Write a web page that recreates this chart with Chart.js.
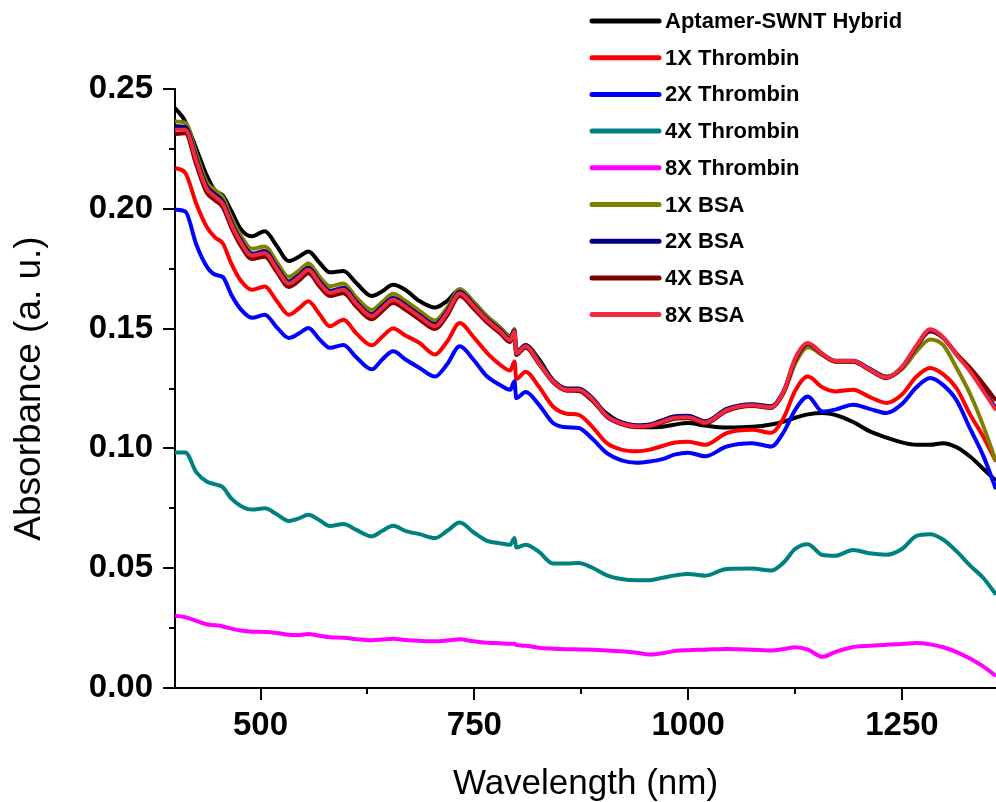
<!DOCTYPE html>
<html>
<head>
<meta charset="utf-8">
<script src="https://cdn.jsdelivr.net/npm/chart.js@4.4.1/dist/chart.umd.min.js"></script>
<style>
html, body { margin: 0; padding: 0; background: #fff; overflow: hidden; }
#wrap { width: 996px; height: 802px; }
</style>
</head>
<body>
<div id="wrap"><canvas id="chart" width="996" height="802"></canvas></div>
<script>
var wavelengths = [400, 412, 425, 437, 447, 456, 466, 477, 490, 505, 519, 533, 545, 556, 569, 581, 597, 612, 630, 642,
	655, 670, 686, 704, 718, 733, 749, 765, 780, 792, 797, 799, 810, 825, 842, 858, 872, 888, 905, 922,
	940, 955, 970, 985, 1000, 1020, 1045, 1075, 1097, 1112, 1125, 1140, 1157, 1172, 1193, 1212, 1232, 1250, 1267, 1283,
	1298, 1314, 1330, 1345, 1360];

var hybrid = [0.2421, 0.2365, 0.2250, 0.2140, 0.2075, 0.2055, 0.1990, 0.1915, 0.1885, 0.1906, 0.1845, 0.1782, 0.1800, 0.1822, 0.1775, 0.1735, 0.1740, 0.1690, 0.1636, 0.1655,
	0.1683, 0.1660, 0.1615, 0.1588, 0.1615, 0.1662, 0.1610, 0.1550, 0.1505, 0.1468, 0.1496, 0.1390, 0.1432, 0.1375, 0.1285, 0.1248, 0.1242, 0.1200, 0.1145, 0.1105,
	0.1090, 0.1088, 0.1090, 0.1100, 0.1106, 0.1095, 0.1087, 0.1090, 0.1100, 0.1112, 0.1128, 0.1142, 0.1148, 0.1140, 0.1110, 0.1072, 0.1045, 0.1025, 0.1015, 0.1015,
	0.1022, 0.1005, 0.0965, 0.0915, 0.0865];

var thrombin1x = [0.2170, 0.2150, 0.2020, 0.1925, 0.1880, 0.1855, 0.1770, 0.1700, 0.1662, 0.1676, 0.1615, 0.1558, 0.1585, 0.1614, 0.1560, 0.1510, 0.1537, 0.1480, 0.1430, 0.1465,
	0.1500, 0.1470, 0.1440, 0.1392, 0.1445, 0.1523, 0.1465, 0.1398, 0.1350, 0.1325, 0.1363, 0.1290, 0.1320, 0.1260, 0.1175, 0.1145, 0.1140, 0.1090, 0.1022, 0.0995,
	0.0988, 0.0995, 0.1010, 0.1025, 0.1028, 0.1015, 0.1064, 0.1078, 0.1065, 0.1130, 0.1240, 0.1300, 0.1255, 0.1238, 0.1245, 0.1215, 0.1190, 0.1225, 0.1300, 0.1336,
	0.1310, 0.1250, 0.1140, 0.1050, 0.0945];

var thrombin2x = [0.1996, 0.1989, 0.1850, 0.1760, 0.1725, 0.1715, 0.1640, 0.1580, 0.1545, 0.1558, 0.1505, 0.1461, 0.1480, 0.1503, 0.1455, 0.1420, 0.1432, 0.1380, 0.1330, 0.1370,
	0.1405, 0.1370, 0.1336, 0.1300, 0.1350, 0.1426, 0.1370, 0.1300, 0.1265, 0.1245, 0.1280, 0.1210, 0.1235, 0.1185, 0.1106, 0.1088, 0.1085, 0.1040, 0.0980, 0.0950,
	0.0940, 0.0945, 0.0955, 0.0975, 0.0982, 0.0967, 0.1008, 0.1022, 0.1008, 0.1070, 0.1160, 0.1217, 0.1154, 0.1162, 0.1182, 0.1165, 0.1148, 0.1185, 0.1255, 0.1294,
	0.1265, 0.1200, 0.1080, 0.0970, 0.0830];

var thrombin4x = [0.0983, 0.0983, 0.0900, 0.0862, 0.0850, 0.0838, 0.0790, 0.0760, 0.0745, 0.0750, 0.0725, 0.0697, 0.0708, 0.0723, 0.0700, 0.0676, 0.0684, 0.0660, 0.0633, 0.0655,
	0.0677, 0.0655, 0.0642, 0.0626, 0.0655, 0.0691, 0.0650, 0.0614, 0.0604, 0.0598, 0.0626, 0.0586, 0.0598, 0.0570, 0.0520, 0.0520, 0.0522, 0.0502, 0.0470, 0.0455,
	0.0450, 0.0450, 0.0460, 0.0470, 0.0476, 0.0469, 0.0497, 0.0499, 0.0490, 0.0525, 0.0580, 0.0600, 0.0555, 0.0552, 0.0576, 0.0562, 0.0556, 0.0580, 0.0635, 0.0642,
	0.0620, 0.0570, 0.0510, 0.0460, 0.0390];

var thrombin8x = [0.0302, 0.0295, 0.0280, 0.0266, 0.0262, 0.0257, 0.0248, 0.0240, 0.0235, 0.0234, 0.0230, 0.0222, 0.0221, 0.0225, 0.0218, 0.0212, 0.0210, 0.0204, 0.0199, 0.0202,
	0.0206, 0.0200, 0.0197, 0.0195, 0.0198, 0.0203, 0.0195, 0.0189, 0.0187, 0.0185, 0.0185, 0.0180, 0.0176, 0.0168, 0.0164, 0.0162, 0.0161, 0.0160, 0.0157, 0.0153,
	0.0147, 0.0140, 0.0145, 0.0155, 0.0158, 0.0160, 0.0163, 0.0160, 0.0157, 0.0163, 0.0170, 0.0160, 0.0130, 0.0150, 0.0171, 0.0176, 0.0181, 0.0184, 0.0188, 0.0182,
	0.0170, 0.0150, 0.0122, 0.0090, 0.0050];

var bsa1x = [0.2365, 0.2360, 0.2228, 0.2112, 0.2078, 0.2048, 0.1962, 0.1888, 0.1833, 0.1843, 0.1778, 0.1716, 0.1742, 0.1772, 0.1717, 0.1677, 0.1688, 0.1630, 0.1578, 0.1610,
	0.1645, 0.1614, 0.1574, 0.1534, 0.1586, 0.1665, 0.1612, 0.1552, 0.1505, 0.1465, 0.1497, 0.1405, 0.1432, 0.1366, 0.1284, 0.1248, 0.1246, 0.1205, 0.1136, 0.1106,
	0.1094, 0.1098, 0.1116, 0.1132, 0.1134, 0.1112, 0.1162, 0.1182, 0.1176, 0.1232, 0.1352, 0.1422, 0.1390, 0.1362, 0.1362, 0.1332, 0.1300, 0.1330, 0.1405, 0.1455,
	0.1432, 0.1335, 0.1225, 0.1095, 0.0945];

var bsa2x = [0.2345, 0.2342, 0.2210, 0.2095, 0.2060, 0.2030, 0.1944, 0.1869, 0.1813, 0.1824, 0.1758, 0.1697, 0.1723, 0.1754, 0.1698, 0.1658, 0.1670, 0.1612, 0.1560, 0.1593,
	0.1628, 0.1597, 0.1557, 0.1518, 0.1572, 0.1654, 0.1600, 0.1540, 0.1495, 0.1457, 0.1492, 0.1402, 0.1430, 0.1364, 0.1284, 0.1250, 0.1250, 0.1210, 0.1140, 0.1110,
	0.1097, 0.1100, 0.1118, 0.1134, 0.1136, 0.1113, 0.1165, 0.1184, 0.1176, 0.1242, 0.1368, 0.1436, 0.1394, 0.1366, 0.1366, 0.1333, 0.1298, 0.1338, 0.1425, 0.1488,
	0.1462, 0.1392, 0.1325, 0.1250, 0.1165];

var bsa4x = [0.2312, 0.2315, 0.2182, 0.2068, 0.2035, 0.2006, 0.1920, 0.1845, 0.1790, 0.1800, 0.1736, 0.1674, 0.1700, 0.1731, 0.1676, 0.1636, 0.1648, 0.1592, 0.1539, 0.1572,
	0.1607, 0.1577, 0.1538, 0.1498, 0.1553, 0.1636, 0.1584, 0.1525, 0.1481, 0.1444, 0.1480, 0.1392, 0.1420, 0.1355, 0.1276, 0.1241, 0.1240, 0.1200, 0.1131, 0.1101,
	0.1088, 0.1091, 0.1108, 0.1124, 0.1126, 0.1104, 0.1156, 0.1177, 0.1169, 0.1236, 0.1366, 0.1437, 0.1392, 0.1362, 0.1362, 0.1327, 0.1293, 0.1337, 0.1426, 0.1492,
	0.1462, 0.1395, 0.1335, 0.1270, 0.1200];

var bsa8x = [0.2330, 0.2330, 0.2200, 0.2085, 0.2050, 0.2020, 0.1935, 0.1860, 0.1805, 0.1815, 0.1750, 0.1688, 0.1715, 0.1746, 0.1690, 0.1650, 0.1662, 0.1605, 0.1552, 0.1585,
	0.1620, 0.1590, 0.1550, 0.1510, 0.1565, 0.1648, 0.1595, 0.1535, 0.1490, 0.1452, 0.1488, 0.1398, 0.1426, 0.1360, 0.1280, 0.1245, 0.1245, 0.1205, 0.1135, 0.1105,
	0.1092, 0.1095, 0.1112, 0.1128, 0.1130, 0.1108, 0.1160, 0.1180, 0.1172, 0.1240, 0.1375, 0.1440, 0.1395, 0.1365, 0.1365, 0.1330, 0.1296, 0.1340, 0.1430, 0.1497,
	0.1465, 0.1390, 0.1320, 0.1240, 0.1160];

var seriesNames = ['Aptamer-SWNT Hybrid', '1X Thrombin', '2X Thrombin', '4X Thrombin', '8X Thrombin', '1X BSA', '2X BSA', '4X BSA', '8X BSA'];
var seriesColors = ['#000000', '#ff0000', '#0000ff', '#008080', '#ff00ff', '#808000', '#000080', '#800000', '#f2283f'];
var seriesValues = [hybrid, thrombin1x, thrombin2x, thrombin4x, thrombin8x, bsa1x, bsa2x, bsa4x, bsa8x];

var xTicks = [500, 625, 750, 875, 1000, 1125, 1250];
var yTicks = [0, 0.025, 0.05, 0.075, 0.1, 0.125, 0.15, 0.175, 0.2, 0.225, 0.25];

var fontFamily = "'Liberation Sans', Arial, sans-serif";

var datasets = seriesValues.map(function(vals, i) {
	return {
		label: seriesNames[i],
		data: wavelengths.map(function(w, j) { return {x: w, y: vals[j]}; }),
		borderColor: seriesColors[i],
		backgroundColor: seriesColors[i],
		order: seriesValues.length - 1 - i
	};
});

// outward ticks, long for labelled values and short for the minor ones
var tickMarks = {
	id: 'tickMarks',
	afterDraw: function(chart) {
		var ctx = chart.ctx, xs = chart.scales.x, ys = chart.scales.y;
		ctx.save();
		ctx.strokeStyle = '#000';
		ctx.lineWidth = 2;
		xs.ticks.forEach(function(t) {
			var px = Math.round(xs.getPixelForValue(t.value));
			ctx.beginPath();
			ctx.moveTo(px, xs.top);
			ctx.lineTo(px, xs.top + (t.label ? 12 : 6));
			ctx.stroke();
		});
		ys.ticks.forEach(function(t) {
			var py = Math.round(ys.getPixelForValue(t.value));
			ctx.beginPath();
			ctx.moveTo(ys.right, py);
			ctx.lineTo(ys.right - (t.label ? 12 : 6), py);
			ctx.stroke();
		});
		ctx.restore();
	}
};

var seriesLegend = {
	id: 'seriesLegend',
	afterDraw: function(chart) {
		var ctx = chart.ctx;
		ctx.save();
		ctx.font = 'bold 22px ' + fontFamily;
		ctx.textBaseline = 'middle';
		ctx.fillStyle = '#000';
		ctx.lineWidth = 5;
		ctx.lineCap = 'round';
		chart.data.datasets.forEach(function(ds, i) {
			var y = 21 + i * 36.7;
			ctx.strokeStyle = ds.borderColor;
			ctx.beginPath();
			ctx.moveTo(592, y);
			ctx.lineTo(659, y);
			ctx.stroke();
			ctx.fillText(ds.label, 665, y + 1);
		});
		ctx.restore();
	}
};

new Chart(document.getElementById('chart'), {
	type: 'line',
	data: {datasets: datasets},
	plugins: [tickMarks, seriesLegend],
	options: {
		responsive: false,
		animation: false,
		layout: {padding: {top: 89, right: 0, bottom: 0, left: 0}},
		elements: {
			point: {radius: 0},
			line: {borderWidth: 4, cubicInterpolationMode: 'monotone'}
		},
		plugins: {
			legend: {display: false},
			tooltip: {enabled: false}
		},
		scales: {
			x: {
				type: 'linear',
				min: 400,
				max: 1360,
				afterBuildTicks: function(scale) {
					scale.ticks = xTicks.map(function(v) { return {value: v}; });
				},
				afterFit: function(scale) { scale.height = 114; },
				grid: {display: true, drawOnChartArea: false, drawTicks: false},
				border: {display: true, color: '#000', width: 2},
				ticks: {
					autoSkip: false,
					maxRotation: 0,
					padding: 18,
					color: '#000',
					font: {family: fontFamily, size: 33, weight: 'bold'},
					callback: function(v) { return v % 250 === 0 ? String(v) : ''; }
				},
				title: {
					display: true,
					text: 'Wavelength (nm)',
					color: '#000',
					font: {family: fontFamily, size: 35, lineHeight: 1},
					padding: {top: 0, bottom: 0}
				}
			},
			y: {
				min: 0,
				max: 0.25,
				afterBuildTicks: function(scale) {
					scale.ticks = yTicks.map(function(v) { return {value: v}; });
				},
				afterFit: function(scale) { scale.width = 175; },
				grid: {display: true, drawOnChartArea: false, drawTicks: false},
				border: {display: true, color: '#000', width: 2},
				ticks: {
					autoSkip: false,
					padding: 22,
					color: '#000',
					font: {family: fontFamily, size: 33, weight: 'bold'},
					callback: function(v) {
						var k = Math.round(v * 1000);
						return k % 50 === 0 ? (k / 1000).toFixed(2) : '';
					}
				},
				title: {
					display: true,
					text: 'Absorbance (a. u.)',
					color: '#000',
					font: {family: fontFamily, size: 37, lineHeight: 1},
					padding: {top: 11, bottom: 0}
				}
			}
		}
	}
});
</script>
</body>
</html>
